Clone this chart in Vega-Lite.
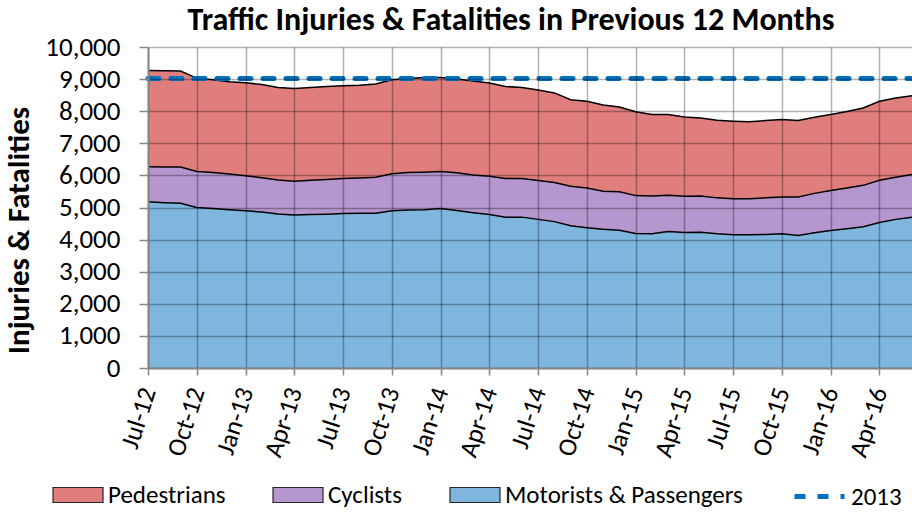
{
  "$schema": "https://vega.github.io/schema/vega-lite/v6.json",
  "width": 764,
  "height": 321,
  "autosize": {"type": "none"},
  "padding": {"left": 148, "top": 47, "right": 0, "bottom": 145},
  "background": "white",
  "config": {"font": "Carlito, Lato, sans-serif", "view": {"stroke": null}, "axis": {"labelOverlap": false}, "axisY": {"labelOverlap": false, "tickCount": 10}},
  "title": {"text": "Traffic Injuries & Fatalities in Previous 12 Months", "fontSize": 32, "fontWeight": "bold", "anchor": "middle", "dx": -19, "offset": -4, "color": "#000000"},
  "data": {"values": [
    {"month": "Jul-12", "Motorists & Passengers": 5180, "Cyclists": 1090, "Pedestrians": 3000, "y2013": 9020},
    {"month": "Aug-12", "Motorists & Passengers": 5150, "Cyclists": 1110, "Pedestrians": 3000, "y2013": 9020},
    {"month": "Sep-12", "Motorists & Passengers": 5130, "Cyclists": 1130, "Pedestrians": 2990, "y2013": 9020},
    {"month": "Oct-12", "Motorists & Passengers": 5000, "Cyclists": 1120, "Pedestrians": 2910, "y2013": 9020},
    {"month": "Nov-12", "Motorists & Passengers": 4970, "Cyclists": 1120, "Pedestrians": 2890, "y2013": 9020},
    {"month": "Dec-12", "Motorists & Passengers": 4930, "Cyclists": 1110, "Pedestrians": 2880, "y2013": 9020},
    {"month": "Jan-13", "Motorists & Passengers": 4900, "Cyclists": 1090, "Pedestrians": 2900, "y2013": 9020},
    {"month": "Feb-13", "Motorists & Passengers": 4860, "Cyclists": 1070, "Pedestrians": 2900, "y2013": 9020},
    {"month": "Mar-13", "Motorists & Passengers": 4800, "Cyclists": 1060, "Pedestrians": 2880, "y2013": 9020},
    {"month": "Apr-13", "Motorists & Passengers": 4770, "Cyclists": 1050, "Pedestrians": 2890, "y2013": 9020},
    {"month": "May-13", "Motorists & Passengers": 4780, "Cyclists": 1070, "Pedestrians": 2890, "y2013": 9020},
    {"month": "Jun-13", "Motorists & Passengers": 4790, "Cyclists": 1080, "Pedestrians": 2900, "y2013": 9020},
    {"month": "Jul-13", "Motorists & Passengers": 4810, "Cyclists": 1090, "Pedestrians": 2890, "y2013": 9020},
    {"month": "Aug-13", "Motorists & Passengers": 4820, "Cyclists": 1100, "Pedestrians": 2890, "y2013": 9020},
    {"month": "Sep-13", "Motorists & Passengers": 4820, "Cyclists": 1120, "Pedestrians": 2910, "y2013": 9020},
    {"month": "Oct-13", "Motorists & Passengers": 4900, "Cyclists": 1150, "Pedestrians": 2930, "y2013": 9020},
    {"month": "Nov-13", "Motorists & Passengers": 4920, "Cyclists": 1170, "Pedestrians": 2930, "y2013": 9020},
    {"month": "Dec-13", "Motorists & Passengers": 4930, "Cyclists": 1170, "Pedestrians": 2950, "y2013": 9020},
    {"month": "Jan-14", "Motorists & Passengers": 4970, "Cyclists": 1150, "Pedestrians": 2930, "y2013": 9020},
    {"month": "Feb-14", "Motorists & Passengers": 4910, "Cyclists": 1170, "Pedestrians": 2920, "y2013": 9020},
    {"month": "Mar-14", "Motorists & Passengers": 4840, "Cyclists": 1170, "Pedestrians": 2930, "y2013": 9020},
    {"month": "Apr-14", "Motorists & Passengers": 4780, "Cyclists": 1190, "Pedestrians": 2910, "y2013": 9020},
    {"month": "May-14", "Motorists & Passengers": 4700, "Cyclists": 1200, "Pedestrians": 2870, "y2013": 9020},
    {"month": "Jun-14", "Motorists & Passengers": 4700, "Cyclists": 1200, "Pedestrians": 2840, "y2013": 9020},
    {"month": "Jul-14", "Motorists & Passengers": 4630, "Cyclists": 1210, "Pedestrians": 2820, "y2013": 9020},
    {"month": "Aug-14", "Motorists & Passengers": 4560, "Cyclists": 1220, "Pedestrians": 2790, "y2013": 9020},
    {"month": "Sep-14", "Motorists & Passengers": 4430, "Cyclists": 1230, "Pedestrians": 2700, "y2013": 9020},
    {"month": "Oct-14", "Motorists & Passengers": 4370, "Cyclists": 1240, "Pedestrians": 2700, "y2013": 9020},
    {"month": "Nov-14", "Motorists & Passengers": 4320, "Cyclists": 1190, "Pedestrians": 2680, "y2013": 9020},
    {"month": "Dec-14", "Motorists & Passengers": 4290, "Cyclists": 1200, "Pedestrians": 2640, "y2013": 9020},
    {"month": "Jan-15", "Motorists & Passengers": 4190, "Cyclists": 1180, "Pedestrians": 2610, "y2013": 9020},
    {"month": "Feb-15", "Motorists & Passengers": 4180, "Cyclists": 1180, "Pedestrians": 2540, "y2013": 9020},
    {"month": "Mar-15", "Motorists & Passengers": 4250, "Cyclists": 1130, "Pedestrians": 2520, "y2013": 9020},
    {"month": "Apr-15", "Motorists & Passengers": 4220, "Cyclists": 1130, "Pedestrians": 2470, "y2013": 9020},
    {"month": "May-15", "Motorists & Passengers": 4230, "Cyclists": 1130, "Pedestrians": 2430, "y2013": 9020},
    {"month": "Jun-15", "Motorists & Passengers": 4180, "Cyclists": 1120, "Pedestrians": 2420, "y2013": 9020},
    {"month": "Jul-15", "Motorists & Passengers": 4150, "Cyclists": 1120, "Pedestrians": 2420, "y2013": 9020},
    {"month": "Aug-15", "Motorists & Passengers": 4150, "Cyclists": 1120, "Pedestrians": 2400, "y2013": 9020},
    {"month": "Sep-15", "Motorists & Passengers": 4160, "Cyclists": 1140, "Pedestrians": 2410, "y2013": 9020},
    {"month": "Oct-15", "Motorists & Passengers": 4180, "Cyclists": 1150, "Pedestrians": 2410, "y2013": 9020},
    {"month": "Nov-15", "Motorists & Passengers": 4130, "Cyclists": 1200, "Pedestrians": 2380, "y2013": 9020},
    {"month": "Dec-15", "Motorists & Passengers": 4210, "Cyclists": 1230, "Pedestrians": 2370, "y2013": 9020},
    {"month": "Jan-16", "Motorists & Passengers": 4280, "Cyclists": 1250, "Pedestrians": 2370, "y2013": 9020},
    {"month": "Feb-16", "Motorists & Passengers": 4340, "Cyclists": 1270, "Pedestrians": 2380, "y2013": 9020},
    {"month": "Mar-16", "Motorists & Passengers": 4400, "Cyclists": 1290, "Pedestrians": 2410, "y2013": 9020},
    {"month": "Apr-16", "Motorists & Passengers": 4530, "Cyclists": 1320, "Pedestrians": 2460, "y2013": 9020},
    {"month": "May-16", "Motorists & Passengers": 4630, "Cyclists": 1310, "Pedestrians": 2470, "y2013": 9020},
    {"month": "Jun-16", "Motorists & Passengers": 4700, "Cyclists": 1330, "Pedestrians": 2450, "y2013": 9020}
  ]},
  "layer": [
    {
      "transform": [
        {"fold": ["Motorists & Passengers", "Cyclists", "Pedestrians"], "as": ["series", "value"]},
        {"stack": "value", "groupby": ["month"], "as": ["v0", "v1"]}
      ],
      "layer": [
        {
          "mark": {"type": "area", "opacity": 1},
          "encoding": {
            "x": {"field": "month", "type": "ordinal", "sort": null, "scale": {"type": "point", "padding": 0},
              "axis": {"values": ["Jul-12","Oct-12","Jan-13","Apr-13","Jul-13","Oct-13","Jan-14","Apr-14","Jul-14","Oct-14","Jan-15","Apr-15","Jul-15","Oct-15","Jan-16","Apr-16"],
                "labelAngle": -72, "labelAlign": "right", "labelBaseline": "middle", "labelFontSize": 26, "labelColor": "#000000", "labelPadding": 13,
                "tickSize": 7, "tickColor": "#868686", "tickWidth": 1.5, "domainColor": "#868686", "domainWidth": 2,
                "grid": true, "gridColor": "#000000", "gridOpacity": 0.3, "gridWidth": 1.5, "title": null, "zindex": 1, "labelOverlap": false}},
            "y": {"field": "v1", "type": "quantitative", "scale": {"domain": [0, 10000]},
              "axis": {"tickCount": 10, "format": ",.0f", "labelFontSize": 27, "labelColor": "#000000", "labelPadding": 19, "labelOverlap": false, "labelSeparation": 0,
                "tickSize": 9, "tickColor": "#868686", "tickWidth": 1.5, "domainColor": "#868686", "domainWidth": 2,
                "grid": true, "gridColor": "#000000", "gridOpacity": 0.3, "gridWidth": 1.5, "zindex": 1,
                "title": "Injuries & Fatalities", "titleFontSize": 31, "titleFontWeight": "bold", "titleColor": "#000000",
                "titleAngle": -90, "titleX": -129, "titleY": 183, "titleAlign": "center", "titleBaseline": "middle"}},
            "y2": {"field": "v0"},
            "color": {"field": "series", "type": "nominal",
              "scale": {"domain": ["Pedestrians", "Cyclists", "Motorists & Passengers"], "range": ["#E07D7D", "#B596CE", "#7EB6DE"]},
              "legend": {"orient": "none", "legendX": -96, "legendY": 422, "direction": "horizontal", "title": null,
                "labelFontSize": 25, "labelColor": "#000000", "labelOffset": 4, "labelLimit": 400, "columnPadding": 44,
                "symbolSize": 2500, "symbolType": "M-1,-0.3H1V0.3H-1Z", "symbolStrokeColor": "#262626", "symbolStrokeWidth": 1.2}},
            "order": {"value": null}
          }
        },
        {
          "mark": {"type": "line", "color": "#000000", "strokeWidth": 1.5},
          "encoding": {
            "x": {"field": "month", "type": "ordinal", "sort": null},
            "y": {"field": "v1", "type": "quantitative"},
            "detail": {"field": "series"},
            "order": {"value": null}
          }
        }
      ]
    },
    {
      "mark": {"type": "line", "color": "#0070C0", "strokeWidth": 5, "strokeCap": "round"},
      "encoding": {
        "x": {"field": "month", "type": "ordinal", "sort": null},
        "y": {"field": "y2013", "type": "quantitative", "axis": {"labelOverlap": false, "tickCount": 10}},
        "strokeDash": {"datum": "2013", "scale": {"domain": ["2013"], "range": [[11, 12]]},
          "legend": {"orient": "none", "legendX": 644, "legendY": 422, "title": null, "symbolType": "stroke", "symbolSize": 2500,
            "symbolStrokeColor": "#0070C0", "symbolStrokeWidth": 5, "labelFontSize": 25, "labelColor": "#000000", "labelOffset": 4}},
        "order": {"value": null}
      }
    }
  ]
}
